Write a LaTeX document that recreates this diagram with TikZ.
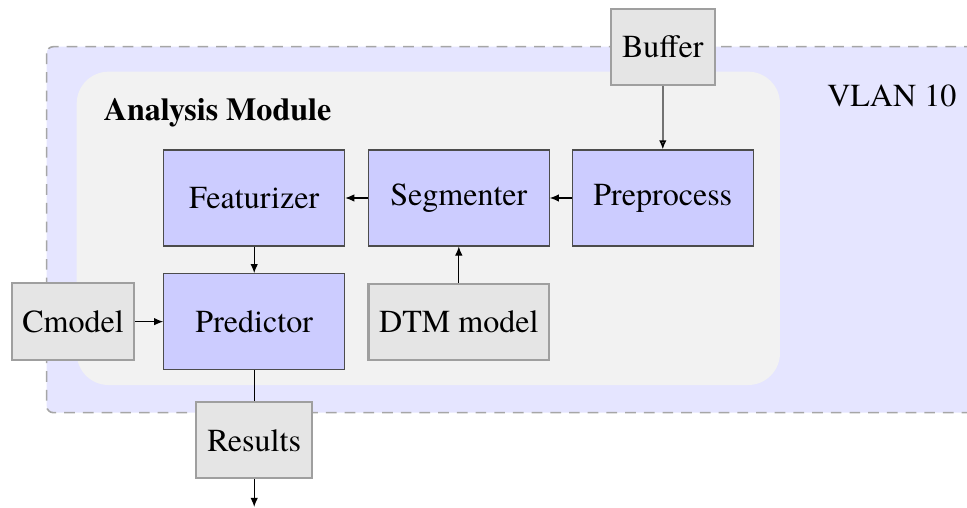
\documentclass[tikz,border=0pt]{standalone}
\usepackage{fontspec}
\setmainfont{texgyretermes}[Extension=.otf, UprightFont=*-regular, BoldFont=*-bold, ItalicFont=*-italic, BoldItalicFont=*-bolditalic]
\usetikzlibrary{shapes}
\usetikzlibrary{positioning}
\usetikzlibrary{arrows.meta}
\tikzset{
    stagenode/.style = {rectangle, draw=black!70, fill=blue!20, align=center, minimum width=2.382cm, minimum height=1.263cm, inner sep=0pt, font=\fontsize{12}{14}\selectfont, text=black},
    datanode/.style = {rectangle, line width=0.8pt, draw=gray!75, fill=gray!20, align=center, minimum height=1.0cm, inner sep=0pt, font=\fontsize{12}{14}\selectfont, text=black},
    edgen/.style = {-{Latex[length=3.4pt,width=2.8pt]},black},
    edgeg/.style = {-{Latex[length=3.4pt,width=2.8pt,black]},black!55,line width=0.6pt},
    edgel/.style = {-,black},
    vlanbox/.style = {draw=gray!70,dashed,dash pattern=on 4pt off 3pt,fill=blue!10,rounded corners=2.5pt,line width=0.6pt},
    modbox/.style = {fill=gray!10,rounded corners=0.42cm}
}

\begin{document}
\begin{tikzpicture}[scale=1.00]
\clip (0,0) rectangle (12.724,-6.684);

% zones
\draw[vlanbox] (0.614,-0.614) rectangle (13.2,-5.43);
\fill[modbox] (1.009,-0.943) rectangle (10.263,-5.066);
\node[anchor=base west, inner sep=0pt, font=\fontsize{12}{14}\selectfont\bfseries] at (1.36,-1.58) (mod) {Analysis Module};
\node[anchor=base west, inner sep=0pt, font=\fontsize{12}{14}\selectfont] at (10.878,-1.404) (vlan) {VLAN 10};

%
\node[stagenode] at (3.345,-2.605) (feat) {Featurizer};
\node[stagenode] at (6.037,-2.605) (seg) {Segmenter};
\node[stagenode] at (8.721,-2.605) (pre) {Preprocess};
\node[stagenode] at (3.345,-4.232) (pred) {Predictor};
\node[datanode, minimum width=1.613cm, minimum height=1.009cm] at (0.961,-4.232) (cm) {Cmodel};
\node[datanode, minimum width=2.378cm] at (6.037,-4.237) (dtm) {DTM model};
\node[datanode, minimum width=1.372cm] at (8.721,-0.618) (buf) {Buffer};
\node[datanode, minimum width=1.526cm] at (3.345,-5.793) (res) {Results};
\coordinate (out) at (3.345,-6.67);
%
\draw[edgeg] (buf) edge node {} (pre);
\draw[edgen] (pre) edge node {} (seg);
\draw[edgen] (seg) edge node {} (feat);
\draw[edgen] (feat) edge node {} (pred);
\draw[edgen] (dtm) edge node {} (seg);
\draw[edgen] (cm) edge node {} (pred);
\draw[edgel] (pred) edge node {} (res);
\draw[edgen] (res) edge node {} (out);

\end{tikzpicture}
\end{document}
